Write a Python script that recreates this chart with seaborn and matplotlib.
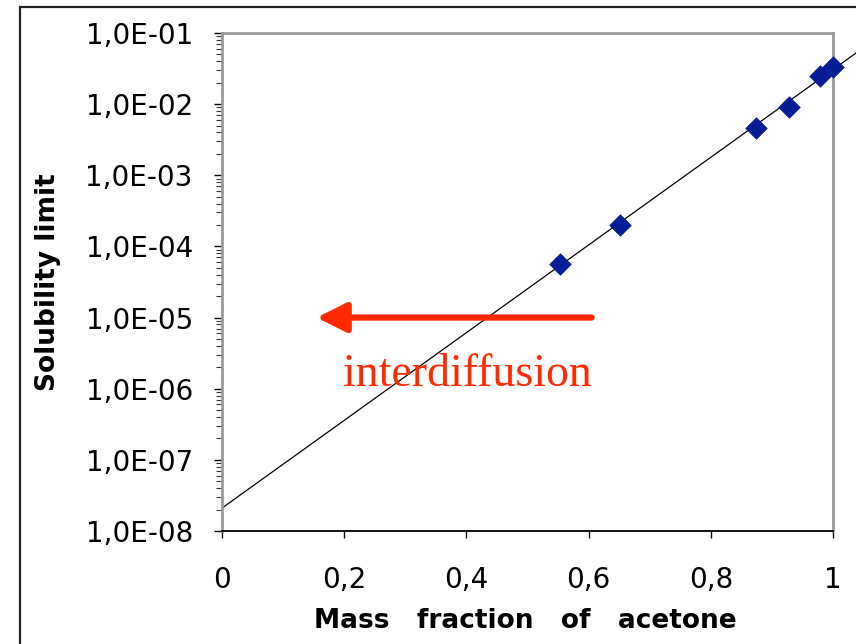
import numpy as np
import pandas as pd
import seaborn as sns
import matplotlib
matplotlib.use("Agg")
import matplotlib.pyplot as plt
from matplotlib.ticker import FixedLocator, FuncFormatter, LogLocator, NullFormatter
from matplotlib.patches import Rectangle

# ---- data ----
mass_fraction = [0.554, 0.652, 0.874, 0.928, 0.979, 1.000]
solubility = [5.6e-5, 2.0e-4, 4.6e-3, 9.1e-3, 2.5e-2, 3.3e-2]
trend_x = [0.0, 1.04]
trend_y = [2.1e-8, 5.4e-2]
x_ticks = [0, 0.2, 0.4, 0.6, 0.8, 1.0]
x_tick_labels = ["0", "0,2", "0,4", "0,6", "0,8", "1"]
y_ticks = [1e-8, 1e-7, 1e-6, 1e-5, 1e-4, 1e-3, 1e-2, 1e-1]
y_tick_labels = ["1,0E-08", "1,0E-07", "1,0E-06", "1,0E-05",
                 "1,0E-04", "1,0E-03", "1,0E-02", "1,0E-01"]
annotation_text = "interdiffusion"

df = pd.DataFrame({"x": mass_fraction, "y": solubility})

sns.set_theme(style="white")
plt.rcParams["font.family"] = ["DejaVu Sans"]
plt.rcParams["text.color"] = "black"
plt.rcParams["axes.labelcolor"] = "black"
plt.rcParams["xtick.color"] = "black"
plt.rcParams["ytick.color"] = "black"

fig = plt.figure(figsize=(8.56, 6.44), dpi=100)
ax = fig.add_axes([222 / 856, 1 - 531 / 644, 611 / 856, 498 / 644])

# outer frame around the figure (extends beyond the visible area)
fig.patches.append(Rectangle((20 / 856, -0.1), 1.2, 1 - 7 / 644 + 0.1,
                             transform=fig.transFigure, fill=False,
                             edgecolor="#222222", linewidth=1.6, zorder=0))

ax.set_yscale("log")
ax.set_xlim(0, 1)
ax.set_ylim(1e-8, 1e-1)

# trend line
ax.plot(trend_x, trend_y, color="black", linewidth=0.9, clip_on=False, zorder=2)

# data points
sns.scatterplot(data=df, x="x", y="y", marker="D", s=120, color="#041c96",
                edgecolor="#041c96", linewidth=0.5, ax=ax, zorder=3, clip_on=False)

# arrow and annotation
ax.annotate("", xy=(0.155, 1e-5), xytext=(0.605, 1e-5),
            arrowprops=dict(arrowstyle="-|>,head_length=1.5,head_width=0.75",
                            color="#ff2a00", linewidth=4.5, shrinkA=0, shrinkB=0))
ax.text(0.198, 1e-6 * 1.1, annotation_text, color="#ff2a00", fontsize=33,
        family=["Liberation Serif", "DejaVu Serif"], va="baseline", ha="left")

# ticks
ax.xaxis.set_major_locator(FixedLocator(x_ticks))
ax.set_xticklabels(x_tick_labels)
ax.yaxis.set_major_locator(FixedLocator(y_ticks))
ax.yaxis.set_major_formatter(FuncFormatter(lambda v, p: y_tick_labels[y_ticks.index(v)] if v in y_ticks else ""))
ax.yaxis.set_minor_locator(LogLocator(base=10, subs=np.arange(2, 10), numticks=20))
ax.yaxis.set_minor_formatter(NullFormatter())

ax.tick_params(axis="y", which="major", direction="out", length=6, width=1,
               color="black", labelsize=20, pad=15, left=True, labelcolor="black")
ax.tick_params(axis="y", which="minor", direction="out", length=4, width=0.8,
               color="#333333", left=True)
ax.tick_params(axis="x", which="major", direction="out", length=5, width=1,
               color="black", labelsize=20, pad=20, bottom=True, labelcolor="black")

for name in ["top", "right", "left"]:
    ax.spines[name].set_color("#999999")
    ax.spines[name].set_linewidth(2)
ax.spines["bottom"].set_color("black")
ax.spines["bottom"].set_linewidth(1.3)

ax.set_xlabel("Mass   fraction   of   acetone", fontsize=19, fontweight="bold",
              va="center", color="black")
ax.set_ylabel("Solubility limit", fontsize=19, fontweight="bold", va="center",
              color="black")
ax.xaxis.set_label_coords((525 - 222) / 611, (531 - 621) / 498)
ax.yaxis.set_label_coords((48 - 222) / 611, 0.5)

fig.savefig("out.png", dpi=100)
